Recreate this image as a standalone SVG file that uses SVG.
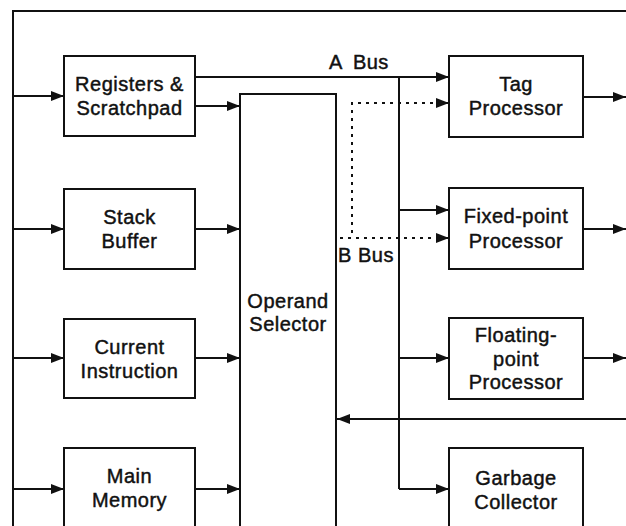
<svg xmlns="http://www.w3.org/2000/svg" width="626" height="526" viewBox="0 0 626 526">
<style>
.box{fill:#fff;stroke:#111;stroke-width:2}
.ln{fill:none;stroke:#111;stroke-width:2}
.dot{fill:none;stroke:#111;stroke-width:2;stroke-dasharray:3,5}
text{font-family:"Liberation Sans",Arial,sans-serif;font-size:20px;fill:#111;stroke:#111;stroke-width:0.45;text-anchor:middle;letter-spacing:0.5px}
</style>
<defs>
<marker id="ah" markerUnits="userSpaceOnUse" markerWidth="14" markerHeight="10" refX="13" refY="5" orient="auto">
<path d="M0,0 L13,5 L0,10 z" fill="#111"/>
</marker>
</defs>
<rect width="626" height="526" fill="#fff"/>
<g id="connectors">
<path class="ln" d="M626,11 H13 V526"/>
<path class="ln" marker-end="url(#ah)" d="M13,96 H64"/>
<path class="ln" marker-end="url(#ah)" d="M13,229 H64"/>
<path class="ln" marker-end="url(#ah)" d="M13,358 H64"/>
<path class="ln" marker-end="url(#ah)" d="M13,489 H64"/>
<path class="ln" marker-end="url(#ah)" d="M195,106 H240"/>
<path class="ln" marker-end="url(#ah)" d="M195,229 H240"/>
<path class="ln" marker-end="url(#ah)" d="M195,358 H240"/>
<path class="ln" marker-end="url(#ah)" d="M195,489 H240"/>
<path class="ln" marker-end="url(#ah)" d="M195,77 H449"/>
<path class="ln" d="M399,77 V489"/>
<path class="ln" marker-end="url(#ah)" d="M399,210 H449"/>
<path class="ln" marker-end="url(#ah)" d="M399,358 H449"/>
<path class="ln" marker-end="url(#ah)" d="M399,489 H449"/>
<path class="dot" d="M449,103 H352 V238"/>
<path class="dot" d="M332,238 H441"/>
<path class="ln" marker-end="url(#ah)" d="M440,103 H449"/>
<path class="ln" marker-end="url(#ah)" d="M440,238 H449"/>
<path class="ln" marker-end="url(#ah)" d="M583,97 H626"/>
<path class="ln" marker-end="url(#ah)" d="M583,229 H626"/>
<path class="ln" marker-end="url(#ah)" d="M583,358 H626"/>
<path class="ln" marker-end="url(#ah)" d="M626,419 H337"/>
<text x="359" y="69" word-spacing="5">A Bus</text>
<text x="366" y="262">B Bus</text>
</g>
<g id="registers">
<rect class="box" x="64" y="56" width="131" height="80"/>
<text x="129.5" y="91">Registers &amp;</text>
<text x="129.5" y="115">Scratchpad</text>
</g>
<g id="stack">
<rect class="box" x="64" y="189" width="131" height="80"/>
<text x="129.5" y="224">Stack</text>
<text x="129.5" y="248">Buffer</text>
</g>
<g id="current">
<rect class="box" x="64" y="319" width="131" height="79"/>
<text x="129.5" y="354">Current</text>
<text x="129.5" y="378">Instruction</text>
</g>
<g id="memory">
<rect class="box" x="64" y="448" width="131" height="90"/>
<text x="129.5" y="483">Main</text>
<text x="129.5" y="507">Memory</text>
</g>
<g id="operand">
<rect class="box" x="240" y="94" width="96" height="450"/>
<text x="288" y="308">Operand</text>
<text x="288" y="331">Selector</text>
</g>
<g id="tag">
<rect class="box" x="449" y="56" width="134" height="81"/>
<text x="516" y="91">Tag</text>
<text x="516" y="115">Processor</text>
</g>
<g id="fixed">
<rect class="box" x="449" y="188" width="134" height="81"/>
<text x="516" y="223">Fixed-point</text>
<text x="516" y="248">Processor</text>
</g>
<g id="floating">
<rect class="box" x="449" y="318" width="134" height="81"/>
<text x="516" y="342">Floating-</text>
<text x="516" y="366">point</text>
<text x="516" y="389">Processor</text>
</g>
<g id="garbage">
<rect class="box" x="449" y="448" width="134" height="90"/>
<text x="516" y="485">Garbage</text>
<text x="516" y="509">Collector</text>
</g>
</svg>
